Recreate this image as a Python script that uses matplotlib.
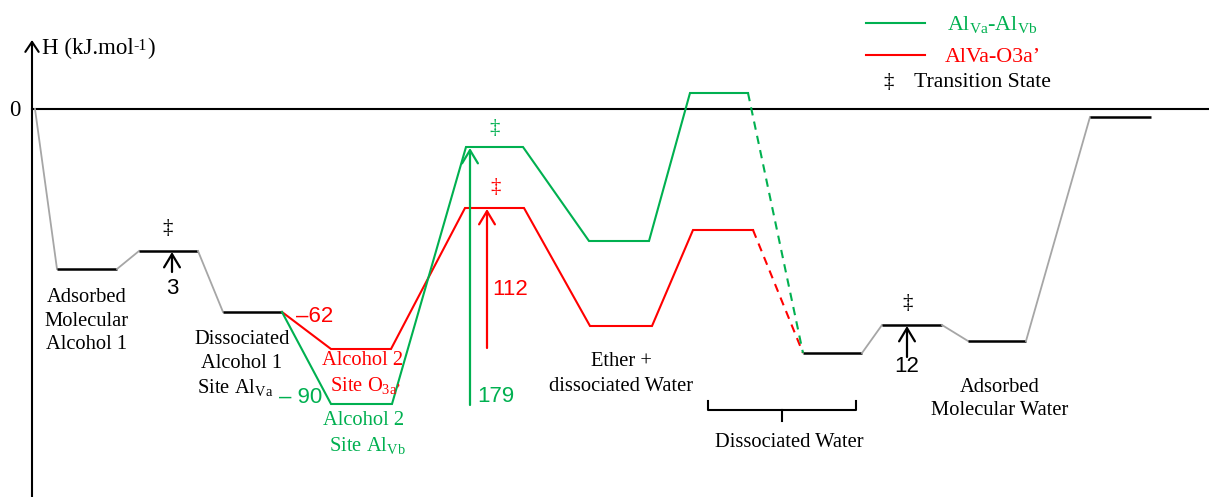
import matplotlib
matplotlib.use("Agg")
import matplotlib.pyplot as plt

plt.rcParams['mathtext.fontset'] = 'custom'
plt.rcParams['mathtext.rm'] = 'Liberation Serif'
plt.rcParams['mathtext.it'] = 'Liberation Serif:italic'

SERIF = 'Liberation Serif'
SANS = 'Liberation Sans'
GREEN = '#00B050'
RED = '#FF0000'
GRAY = '#A6A6A6'

# ---- data (chart energy units; 0 = reference line) ----
start_point_E = 0
black_x0 = [57, 139, 223, 803, 882, 968, 1090]
black_x1 = [117, 198, 282, 862, 942, 1026, 1151]
black_E = [-160, -142, -203, -244, -216, -232, -8]

green_x0 = [331, 466, 589, 690]
green_x1 = [392, 523, 649, 748]
green_E = [-295, -38, -132, 16]

red_x0 = [331, 465, 590, 693]
red_x1 = [391, 524, 652, 753]
red_E = [-240, -99, -217, -121]

barrier_labels = ['3', '179', '112', '12']

LABEL_FS = 14.8
NUM_FS = 16

fig = plt.figure(figsize=(12.09, 4.97), dpi=100)
ax = fig.add_axes([0, 0, 1, 1])
ax.set_xlim(0, 1209)
ax.set_ylim(-388, 109)
ax.axis('off')

# axis and zero line
ax.annotate('', xy=(32, 69), xytext=(32, -390),
            arrowprops=dict(arrowstyle='->,head_length=0.45,head_width=0.3',
                            lw=1.5, color='black', mutation_scale=16,
                            shrinkA=0, shrinkB=0))
ax.plot([32, 1209], [0, 0], color='black', lw=1.5)
t1 = ax.text(42, 61, 'H (kJ.mol', family=SERIF, fontsize=16.5,
             ha='left', va='center')
t2 = ax.annotate('-1', xy=(1, 0.95), xycoords=t1, family=SERIF, fontsize=11.5,
                 ha='left', va='top')
ax.annotate(')', xy=(1, 0), xycoords=(t2, t1), family=SERIF, fontsize=16.5,
            ha='left', va='bottom')
ax.text(15, -2, '0', family=SERIF, fontsize=16.5, ha='center', va='center')

# black levels and gray connectors
ax.plot([35, black_x0[0]], [start_point_E, black_E[0]], color=GRAY, lw=1.3)
for i in range(len(black_E)):
    ax.plot([black_x0[i], black_x1[i]], [black_E[i], black_E[i]],
            color='black', lw=1.8, solid_capstyle='butt')
    if i + 1 < len(black_E) and i != 2:
        ax.plot([black_x1[i], black_x0[i + 1]], [black_E[i], black_E[i + 1]],
                color=GRAY, lw=1.3)


def pathway(x0, x1, E, color):
    xs = [black_x1[2]]
    ys = [black_E[2]]
    for a, b, e in zip(x0, x1, E):
        xs += [a, b]
        ys += [e, e]
    ax.plot(xs, ys, color=color, lw=1.5, solid_joinstyle='miter')
    ax.plot([x1[-1], black_x0[3]], [E[-1], black_E[3]], color=color, lw=1.5,
            linestyle=(0, (4, 3)))


pathway(red_x0, red_x1, red_E, RED)
pathway(green_x0, green_x1, green_E, GREEN)

# barrier arrows
arrow_kw = dict(arrowstyle='->,head_length=0.5,head_width=0.3', lw=1.6,
                mutation_scale=19, shrinkA=0, shrinkB=0)


def barrier(x, y_from, y_to, color, label, lx, ly, ha='left'):
    ax.annotate('', xy=(x, y_to), xytext=(x, y_from),
                arrowprops=dict(color=color, **arrow_kw))
    ax.text(lx, ly, label, family=SANS, fontsize=NUM_FS, color=color,
            ha=ha, va='center')


barrier(172, -163, black_E[1] - 1, 'black', barrier_labels[0], 172, -180, 'center')
barrier(470, -296, green_E[1] - 1, GREEN, barrier_labels[1], 477, -288)
barrier(487, -239, red_E[1] - 1, RED, barrier_labels[2], 492, -181)
barrier(907, -248, black_E[4] - 1, 'black', barrier_labels[3], 907, -258, 'center')

ax.text(296, -208, '\u201362', family=SANS, fontsize=NUM_FS, color=RED,
        ha='left', va='center')
ax.text(279, -289, '\u2013 90', family=SANS, fontsize=NUM_FS, color=GREEN,
        ha='left', va='center')

# transition state markers
for (x, y, c) in [(168, -120, 'black'), (908, -195, 'black'),
                  (495, -20, GREEN), (496, -79, RED)]:
    ax.text(x, y, '\u2021', family=SERIF, fontsize=15, color=c,
            ha='center', va='center')


def lines(x, y0, step, texts, color='black', xs=None):
    for k, t in enumerate(texts):
        xx = xs[k] if xs is not None else x
        ax.text(xx, y0 - k * step, t, family=SERIF, fontsize=LABEL_FS,
                color=color, ha='center', va='center')


lines(87, 109 - 298, 23.5, ['Adsorbed', 'Molecular', 'Alcohol 1'])
lines(242, 109 - 340, 24, ['Dissociated', 'Alcohol 1', r'Site Al$_{\mathrm{Va}}$'],
      xs=[242, 242, 235])
lines(363, 109 - 361, 24.5, ['Alcohol 2', 'Site O$_{\\mathrm{3a\u2019}}$'], RED,
      xs=[363, 365])
lines(364, 109 - 421, 25, ['Alcohol 2', r'Site Al$_{\mathrm{Vb}}$'], GREEN,
      xs=[364, 367])
lines(621, 109 - 362, 25, ['Ether +', 'dissociated Water'])
lines(789, 109 - 443, 24, ['Dissociated Water'])
lines(1000, 109 - 388, 23, ['Adsorbed', 'Molecular Water'])

# brace under dissociated water
ax.plot([708, 708, 856, 856], [109 - 401, 109 - 410, 109 - 410, 109 - 401],
        color='black', lw=1.5)
ax.plot([782, 782], [109 - 410, 109 - 421], color='black', lw=1.5)

# legend
ax.plot([866, 925], [109 - 23, 109 - 23], color=GREEN, lw=1.5)
ax.text(947, 109 - 25, r'Al$_{\mathrm{Va}}$-Al$_{\mathrm{Vb}}$', family=SERIF,
        fontsize=15.8, color=GREEN, ha='left', va='center')
ax.plot([866, 925], [109 - 55, 109 - 55], color=RED, lw=1.5)
ax.text(945, 109 - 58, 'AlVa-O3a\u2019', family=SERIF, fontsize=15.8,
        color=RED, ha='left', va='center')
ax.text(889, 109 - 83, '\u2021', family=SERIF, fontsize=15, color='black',
        ha='center', va='center')
ax.text(914, 109 - 83, 'Transition State', family=SERIF, fontsize=15.6,
        color='black', ha='left', va='center')

fig.savefig('out.png', dpi=100)
